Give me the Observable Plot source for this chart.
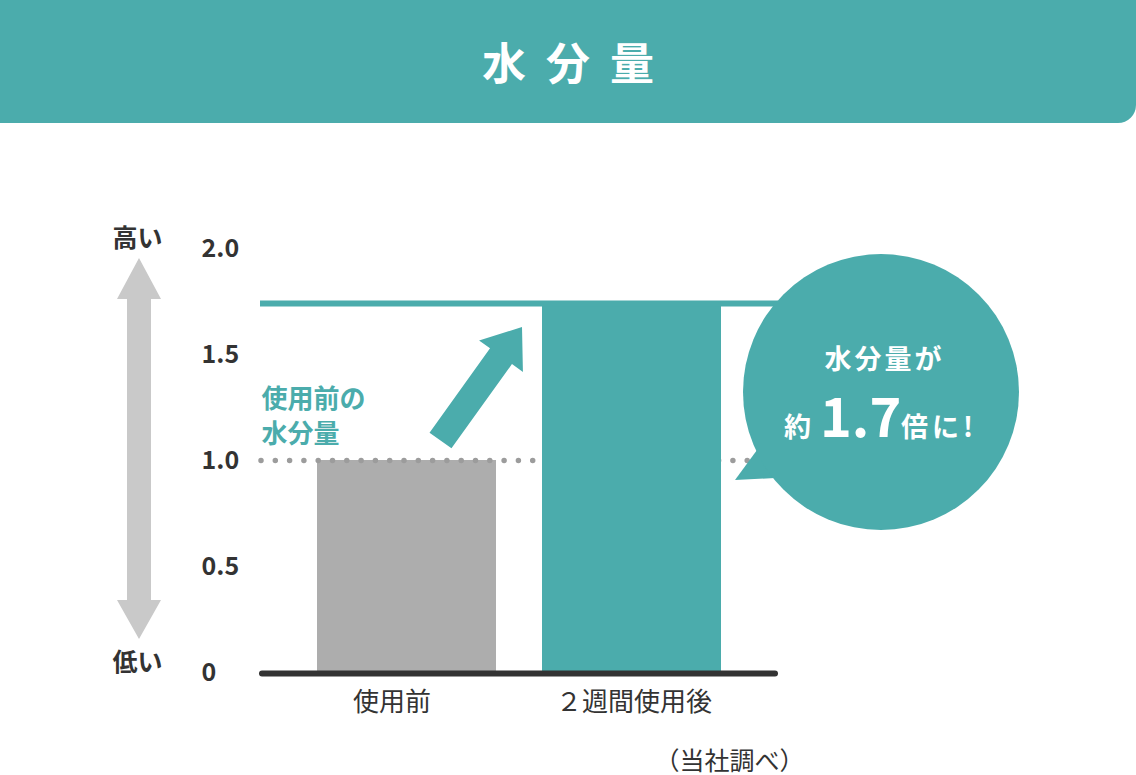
<!DOCTYPE html>
<html>
<head>
<meta charset="utf-8">
<script src="https://cdn.jsdelivr.net/npm/d3@7"></script>
<script src="https://cdn.jsdelivr.net/npm/@observablehq/plot@0.6"></script>
<style>
  body { margin: 0; background: #fff; font-family: "Noto Sans CJK JP", "Noto Sans", sans-serif; }
  #header {
    width: 1136px; height: 123px; box-sizing: border-box;
    background: #4bacac; border-bottom-right-radius: 18px;
    display: flex; align-items: center; justify-content: center;
    color: #fff; font-size: 44px; font-weight: 700; letter-spacing: 5px;
    padding-bottom: 2px; padding-left: 5px;
  }
  #chart svg { display: block; }
</style>
</head>
<body>
<div id="header"></div>
<div id="chart"></div>
<script>
// ---- data ----
const title = "水 分 量";
const categories = ["使用前", "２週間使用後"];
const values = [1.0, 1.74];
const yTicks = [0, 0.5, 1.0, 1.5, 2.0];
const yTickLabels = ["0", "0.5", "1.0", "1.5", "2.0"];
const axisEndLabels = ["高い", "低い"];
const axisEndValues = [2.0, 0];
const beforeLabelLines = ["使用前の", "水分量"];
const calloutLine1 = "水分量が";
const calloutLine2 = ["約", "1.7", "倍に!"];
const source = "（当社調べ）";

// ---- style ----
const FONT = '"Noto Sans CJK JP", "Noto Sans", sans-serif';
const TEAL = "#4bacac";
const GREY_BAR = "#adadad";
const GREY_ARROW = "#c9c9c9";
const DARK = "#333333";

document.getElementById("header").textContent = title;

const bars = categories.map((c, i) => ({c, v: values[i]}));
const ticks = yTicks.map((v, i) => ({v, label: yTickLabels[i]}));
const ends = axisEndLabels.map((t, i) => ({t, v: axisEndValues[i]}));

function poly(g, pts, fill) {
  g.append("polygon").attr("points", pts.map(p => p.join(",")).join(" ")).attr("fill", fill);
}

function arrowPts(tail, tip, shaftW, headW, headL) {
  const dx = tip[0] - tail[0], dy = tip[1] - tail[1];
  const L = Math.hypot(dx, dy);
  const u = [dx / L, dy / L], p = [-u[1], u[0]];
  const B = [tip[0] - headL * u[0], tip[1] - headL * u[1]];
  const off = (q, k) => [q[0] + k * p[0], q[1] + k * p[1]];
  return [off(tail, shaftW / 2), off(B, shaftW / 2), off(B, headW / 2), tip,
          off(B, -headW / 2), off(B, -shaftW / 2), off(tail, -shaftW / 2)];
}

// decorative annotations placed relative to the library's scales
function annotations(...args) {
  const s = args.find(a => a && typeof a.y === "function" && typeof a.x === "function");
  const d = args.find(a => a && typeof a.marginLeft === "number" && typeof a.width === "number");
  const x = s.x, y = s.y;
  const y0 = y(0), y1 = y(values[0]), y2 = y(2);
  const right = d.width - d.marginRight;
  const g = d3.create("svg:g");

  // grey double arrow (high / low)
  const cx = d.marginLeft - 121;
  const tT = y2 + 10, tB = y2 + 51, bT = y0 - 33, bB = y0 - 72;
  poly(g, [[cx, tT], [cx + 22, tB], [cx + 12, tB], [cx + 12, bB], [cx + 22, bB],
           [cx, bT], [cx - 22, bB], [cx - 12, bB], [cx - 12, tB], [cx - 22, tB]], GREY_ARROW);

  // teal rising arrow
  const bx2 = x(categories[1]);
  poly(g, arrowPts([bx2 - 101.5, y1 - 19.5], [bx2 - 20, y1 - 133], 27, 54, 36), TEAL);

  // speech bubble
  const ccx = right + 103, ccy = y1 - 68, r = 138;
  poly(g, [[right - 43, y1 + 20], [right - 21, y1 - 10], [right - 3, y1 + 18]], TEAL);
  g.append("circle").attr("cx", ccx).attr("cy", ccy).attr("r", r).attr("fill", TEAL);

  g.append("text").attr("x", ccx + 3.5).attr("y", ccy - 23)
    .attr("text-anchor", "middle").attr("fill", "#fff").attr("font-family", FONT)
    .attr("font-weight", 700).attr("font-size", 27).attr("letter-spacing", 3).text(calloutLine1);

  const base2 = ccy + 45;
  g.append("text").attr("x", ccx - 97).attr("y", base2).attr("text-anchor", "start").attr("fill", "#fff")
    .attr("font-family", FONT).attr("font-weight", 700).attr("font-size", 27).text(calloutLine2[0]);
  g.append("text").attr("x", ccx - 61).attr("y", base2).attr("text-anchor", "start").attr("fill", "#fff")
    .attr("font-family", FONT).attr("font-weight", 700).attr("font-size", 54).text(calloutLine2[1]);
  g.append("text").attr("x", ccx + 20).attr("y", base2).attr("text-anchor", "start").attr("fill", "#fff")
    .attr("font-family", FONT).attr("font-weight", 700).attr("font-size", 27)
    .attr("letter-spacing", 4).text(calloutLine2[2]);
  return g.node();
}

const chart = Plot.plot({
  width: 1136,
  height: 652,
  marginTop: 125,
  marginBottom: 103,
  marginLeft: 260,
  marginRight: 358,
  x: {type: "band", domain: categories, paddingInner: 0.2035, paddingOuter: 0.2478, axis: null},
  y: {domain: [0, 2], axis: null},
  style: {fontFamily: FONT, background: "#fff", overflow: "visible"},
  marks: [
    Plot.barY(bars.filter(b => b.c === categories[0]), {x: "c", y: "v", fill: GREY_BAR}),
    Plot.ruleY([values[0]], {stroke: "#9c9c9c", strokeWidth: 5.5, strokeLinecap: "round",
                             strokeDasharray: "0 14.3", strokeDashoffset: -1}),
    Plot.barY(bars.filter(b => b.c === categories[1]), {x: "c", y: "v", fill: TEAL}),
    Plot.ruleY([values[1]], {stroke: TEAL, strokeWidth: 6}),
    Plot.ruleY([0], {stroke: DARK, strokeWidth: 6, strokeLinecap: "round", insetLeft: 2, insetRight: 3, dy: 1}),
    annotations,
    // y tick labels
    Plot.text(ticks, {y: "v", text: "label", frameAnchor: "left", dx: -59, textAnchor: "start",
                      fontSize: 25, fontWeight: 700, fill: DARK}),
    // high / low
    Plot.text(ends, {y: "v", text: "t", frameAnchor: "left", dx: -123, dy: -10, textAnchor: "middle",
                     fontSize: 25, fontWeight: 700, fill: DARK}),
    // before label (two lines)
    Plot.text([beforeLabelLines[0]], {frameAnchor: "top-left", dx: 1, dy: 141, textAnchor: "start",
                              fontSize: 26, fontWeight: 700, fill: TEAL}),
    Plot.text([beforeLabelLines[1]], {frameAnchor: "top-left", dx: 1, dy: 176, textAnchor: "start",
                              fontSize: 26, fontWeight: 700, fill: TEAL}),
    // x labels
    Plot.text(bars.filter(b => b.c === categories[0]), {x: "c", text: "c", frameAnchor: "bottom", dy: 38, dx: -15,
                              fontSize: 26, fill: DARK}),
    Plot.text(bars.filter(b => b.c === categories[1]), {x: "c", text: "c", frameAnchor: "bottom", dy: 38, dx: 2,
                              fontSize: 26, fill: DARK}),
    // source
    Plot.text([source], {frameAnchor: "bottom-right", dx: 26, dy: 97, textAnchor: "end",
                         fontSize: 25, fill: DARK})
  ]
});
document.getElementById("chart").appendChild(chart);
</script>
</body>
</html>
